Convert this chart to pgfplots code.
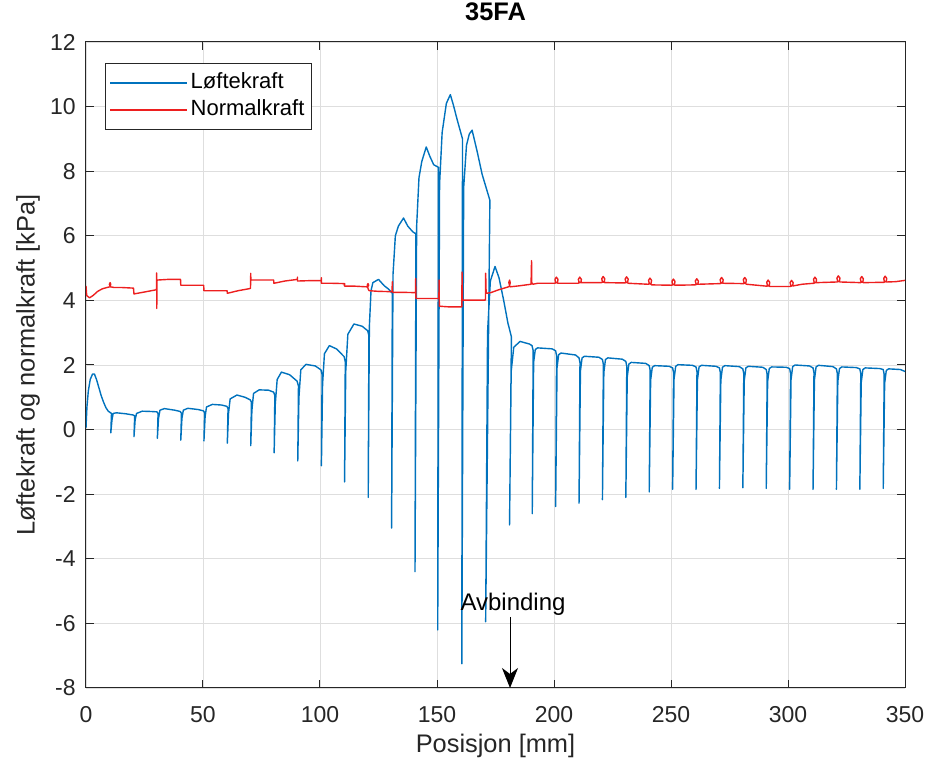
\documentclass[border=0pt]{standalone}
\usepackage{fontspec}
\setmainfont{Liberation Sans}
\usepackage{pgfplots}
\pgfplotsset{compat=1.18}
\usetikzlibrary{arrows.meta,calc}
\definecolor{mblue}{rgb}{0,0.447,0.741}
\definecolor{mred}{rgb}{0.93,0.12,0.12}
\definecolor{axc}{rgb}{0.15,0.15,0.15}
\definecolor{gridc}{rgb}{0.87,0.87,0.87}
\begin{document}
\begin{tikzpicture}
\begin{axis}[
  scale only axis, width=409.5pt, height=323pt,
  xmin=0, xmax=350, ymin=-8, ymax=12,
  xtick={0,50,...,350}, ytick={-8,-6,...,12},
  grid=major, major grid style={gridc, line width=0.45pt},
  axis line style={axc, line width=0.5pt},
  tick style={axc, line width=0.5pt}, major tick length=4pt,
  tick align=inside,
  /pgf/number format/assume math mode=true,
  ticklabel style={font=\fontsize{11.5}{13}\selectfont, text=axc},
  xticklabel style={inner sep=0pt, anchor=north, yshift=-9pt},
  yticklabel style={inner sep=0pt, anchor=east, xshift=-5pt},
  title={35FA},
  title style={at={(axis description cs:0.5,1)}, anchor=south, yshift=4.5pt, inner sep=0pt, font=\fontsize{12.7}{14}\selectfont\bfseries},
  xlabel={Posisjon [mm]},
  ylabel={Løftekraft og normalkraft [kPa]},
  label style={font=\fontsize{12.7}{14}\selectfont, text=axc},
  xlabel style={at={(axis description cs:0.5,0)}, anchor=north, yshift=-23pt, inner sep=0pt},
  ylabel style={at={(axis description cs:0,0.5)}, anchor=center, yshift=29pt, inner sep=0pt},
  legend style={at={(0.023,0.9675)}, anchor=north west, draw=axc, line width=0.5pt, fill=white,
    font=\fontsize{11}{13}\selectfont, inner xsep=2pt, inner ysep=3pt,
    nodes={inner sep=1.5pt, text height=8pt, text depth=2.5pt}},
  legend cell align=left,
  legend image code/.code={\draw[#1] (0pt,0pt) -- (38.5pt,0pt);},
]
\addplot[mblue, line width=0.7pt, line join=round] coordinates {
(0,0.05) (0.4,0.7) (1,1.2) (1.8,1.55) (2.8,1.72) (3.6,1.72) (4.5,1.55) (5.5,1.3) (6.5,1.05) (7.5,0.85) (8.5,0.68) (9.5,0.57) (10.9,0.5)
(10.6,-0.1) (11.1,0.3) (11.6,0.5) (13,0.52) (17,0.49) (20.3,0.45) (20.8,0.42)
(20.5,-0.22) (21.0,0.3) (21.6,0.5) (24,0.57) (28,0.56) (30.3,0.55) (30.8,0.5)
(30.5,-0.27) (31.0,0.35) (31.6,0.6) (33.5,0.65) (38,0.6) (40.3,0.56) (40.8,0.5)
(40.5,-0.33) (41.0,0.35) (41.6,0.6) (43.5,0.66) (48,0.62) (50.2,0.58) (50.7,0.52)
(50.4,-0.35) (50.9,0.4) (51.5,0.7) (54,0.78) (58,0.76) (60.2,0.72) (60.7,0.65)
(60.4,-0.42) (60.9,0.5) (61.6,0.95) (64.5,1.07) (68,1.0) (70.2,0.92) (70.7,0.85)
(70.4,-0.5) (70.9,0.6) (71.6,1.12) (74,1.23) (78,1.22) (80.2,1.16) (80.7,1.05)
(80.4,-0.72) (80.9,0.8) (81.7,1.55) (83.5,1.78) (87,1.7) (90.2,1.5) (90.8,1.35)
(90.5,-0.97) (91.0,1.0) (91.8,1.85) (94,2.02) (98,1.97) (100.4,1.85) (100.9,1.7)
(100.6,-1.12) (101.1,1.4) (101.9,2.35) (104,2.6) (107,2.5) (110.3,2.26) (110.8,2.1)
(110.5,-1.62) (111.0,1.8) (111.9,2.95) (114.5,3.27) (118,3.2) (120.4,3.06) (120.9,2.9)
(120.6,-2.1) (121.1,3.2) (121.8,4.3) (122.6,4.55) (125,4.65) (127.5,4.45) (129.3,4.35) (130.9,4.22)
(130.6,-3.05) (131.2,4.8) (132.2,6.0) (133.5,6.3) (135.7,6.55) (137.5,6.3) (139.7,6.12) (141.0,6.06)
(140.6,-4.4) (141.3,6.3) (142.3,7.8) (143.5,8.3) (145.4,8.75) (147,8.45) (148.6,8.2) (150.6,8.12)
(150.3,-6.2) (151.1,7.6) (152.2,9.2) (154,10.1) (155.7,10.37) (157,10.05) (158.6,9.6) (160.9,9.0)
(160.6,-7.25) (161.4,7.5) (162.6,8.8) (163.8,9.15) (165,9.27) (167.1,8.63) (169.3,7.9) (172.6,7.1)
(170.8,-5.95) (171.6,3.0) (172.8,4.6) (174.8,5.05) (176.5,4.7) (178.5,4.0) (180.3,3.3) (181.8,2.87)
(181.0,-2.95) (181.7,1.8) (182.8,2.55) (185.5,2.73) (189.5,2.65) (190.6,2.6) (191.1,2.45)
(190.7,-2.6) (191.3,2.08) (192.0,2.48) (193.0,2.53) (199.2,2.5) (200.7,2.44) (201.1,2.29)
(200.7,-2.38) (201.3,1.92) (202.0,2.32) (203.0,2.37) (209.2,2.31) (210.7,2.22) (211.1,2.07)
(210.7,-2.28) (211.3,1.82) (212.0,2.22) (213.0,2.27) (219.2,2.24) (220.7,2.17) (221.1,2.02)
(220.7,-2.17) (221.3,1.77) (222.0,2.17) (223.0,2.22) (229.2,2.18) (230.7,2.11) (231.1,1.96)
(230.7,-2.1) (231.3,1.63) (232.0,2.03) (233.0,2.08) (239.2,2.05) (240.7,1.98) (241.1,1.83)
(240.7,-1.93) (241.3,1.53) (242.0,1.93) (243.0,1.98) (249.2,1.96) (250.7,1.91) (251.1,1.76)
(250.7,-1.85) (251.3,1.56) (252.0,1.96) (253.0,2.01) (259.2,1.99) (260.7,1.94) (261.1,1.79)
(260.7,-1.85) (261.3,1.54) (262.0,1.94) (263.0,1.99) (269.2,1.96) (270.7,1.91) (271.1,1.76)
(270.7,-1.82) (271.3,1.53) (272.0,1.93) (273.0,1.98) (279.2,1.95) (280.7,1.88) (281.1,1.73)
(280.7,-1.8) (281.3,1.51) (282.0,1.91) (283.0,1.96) (289.2,1.93) (290.7,1.86) (291.1,1.71)
(290.7,-1.82) (291.3,1.49) (292.0,1.89) (293.0,1.94) (299.2,1.93) (300.7,1.89) (301.1,1.74)
(300.7,-1.85) (301.3,1.55) (302.0,1.95) (303.0,2.0) (309.2,1.97) (310.7,1.91) (311.1,1.76)
(310.7,-1.85) (311.3,1.54) (312.0,1.94) (313.0,1.99) (319.2,1.95) (320.7,1.88) (321.1,1.73)
(320.7,-1.85) (321.3,1.49) (322.0,1.89) (323.0,1.94) (329.2,1.92) (330.7,1.88) (331.1,1.73)
(330.7,-1.85) (331.3,1.46) (332.0,1.86) (333.0,1.91) (339.2,1.89) (340.7,1.86) (341.1,1.71)
(340.7,-1.82) (341.3,1.43) (342.0,1.83) (343.0,1.88) (348,1.86) (350,1.8)
};
\addlegendentry{Løftekraft}
\addplot[mred, line width=0.7pt, line join=round] coordinates {
(0,4.45) (0.3,4.15) (1.5,4.08) (3,4.15) (5,4.28) (7,4.36) (9,4.4)
(10.2,4.42) (10.6,4.5) (10.3,4.55) (10.0,4.5) (10.4,4.42) (12,4.4)
(15,4.4) (20.3,4.38) (20.5,4.2) (22,4.22) (25,4.26) (30.1,4.33) (30.2,4.85) (30.25,3.75) (30.3,4.6) (30.5,4.63)
(35,4.65) (40.4,4.65) (40.5,4.47) (45,4.47) (50.3,4.47) (50.4,4.3) (55,4.3) (60.3,4.3) (60.4,4.22) (65,4.3)
(70.3,4.37) (70.4,4.84) (70.45,4.63) (75,4.63) (80.2,4.63) (80.3,4.53) (85,4.6) (90.3,4.65) (90.4,4.72) (90.4,4.6)
(95,4.61) (100.5,4.61) (100.6,4.7) (100.6,4.53) (105,4.53) (110.5,4.52)
(110.6,4.5) (110.3,4.47) (110.6,4.44) (115,4.44) (120,4.42)
(120.4,4.42) (120.8,4.47) (120.5,4.52) (120.2,4.47) (120.6,4.35) (121,4.3) (125,4.28) (130.8,4.27)
(130.9,4.58) (131,4.25) (135,4.25) (140.8,4.24)
(140.9,4.68) (141,4.06) (145,4.06) (150.8,4.06)
(150.9,4.63) (151,3.82) (155,3.8) (160.6,3.8)
(160.7,4.88) (160.9,4.01) (165,4.01) (170.7,4.01)
(170.8,4.84) (171,4.22) (173,4.24) (176,4.32) (180.5,4.42)
(181,4.45) (181.3,4.55) (181,4.63) (180.7,4.55) (181.2,4.42)
(185,4.45) (190.2,4.5) (190.4,5.23) (190.5,4.55) (191,4.5) (193,4.53) (200.2,4.53)
(201.5,4.56) (201.7,4.65) (201,4.72) (200.4,4.65) (200.7,4.56) (201.8,4.53) (210.2,4.53)
(211.5,4.56) (211.7,4.65) (211,4.72) (210.4,4.65) (210.7,4.56) (211.8,4.55) (220.2,4.55)
(221.5,4.58) (221.7,4.67) (221,4.74) (220.4,4.67) (220.7,4.58) (221.8,4.55) (230.2,4.54)
(231.5,4.57) (231.7,4.66) (231,4.73) (230.4,4.66) (230.7,4.57) (231.8,4.53) (240.2,4.5)
(241.5,4.53) (241.7,4.62) (241,4.69) (240.4,4.62) (240.7,4.53) (241.8,4.48) (250.2,4.47)
(251.5,4.5) (251.7,4.59) (251,4.66) (250.4,4.59) (250.7,4.5) (251.8,4.47) (260.2,4.48)
(261.5,4.51) (261.7,4.6) (261,4.67) (260.4,4.6) (260.7,4.51) (261.8,4.5) (271,4.52)
(272.1,4.55) (272.3,4.64) (271.6,4.71) (271,4.64) (271.3,4.55) (272.4,4.53) (281,4.52)
(282,4.55) (282.2,4.64) (281.5,4.71) (280.9,4.64) (281.2,4.55) (282.3,4.5) (291,4.44)
(292,4.47) (292.2,4.56) (291.5,4.63) (290.9,4.56) (291.2,4.47) (292.3,4.43) (301,4.43)
(302,4.46) (302.2,4.55) (301.5,4.62) (300.9,4.55) (301.2,4.46) (302.3,4.45) (306,4.5) (311,4.53)
(312,4.56) (312.2,4.65) (311.5,4.72) (310.9,4.65) (311.2,4.56) (312.3,4.55) (321,4.57)
(322,4.6) (322.2,4.69) (321.5,4.76) (320.9,4.69) (321.2,4.6) (322.3,4.57) (331,4.55)
(332,4.58) (332.2,4.67) (331.5,4.74) (330.9,4.67) (331.2,4.58) (332.3,4.55) (341,4.56)
(342,4.59) (342.2,4.68) (341.5,4.75) (340.9,4.68) (341.2,4.59) (342.3,4.57) (346,4.58) (350,4.62)
};
\addlegendentry{Normalkraft}
\draw[black, line width=0.5pt, -{Stealth[length=10pt,width=8pt,inset=3pt]}] (axis cs:181.2,-5.8) -- (axis cs:181.2,-8);
\node[font=\fontsize{12}{14}\selectfont, inner sep=0pt, anchor=center] at (axis cs:182.5,-5.4) {Avbinding};
\coordinate (bl) at (rel axis cs:0,0);
\coordinate (tr) at (rel axis cs:1,1);
\end{axis}
\pgfresetboundingbox
\path[use as bounding box] ($(bl)+(-43pt,-41.5pt)$) rectangle ($(tr)+(14pt,21pt)$);
\end{tikzpicture}
\end{document}
